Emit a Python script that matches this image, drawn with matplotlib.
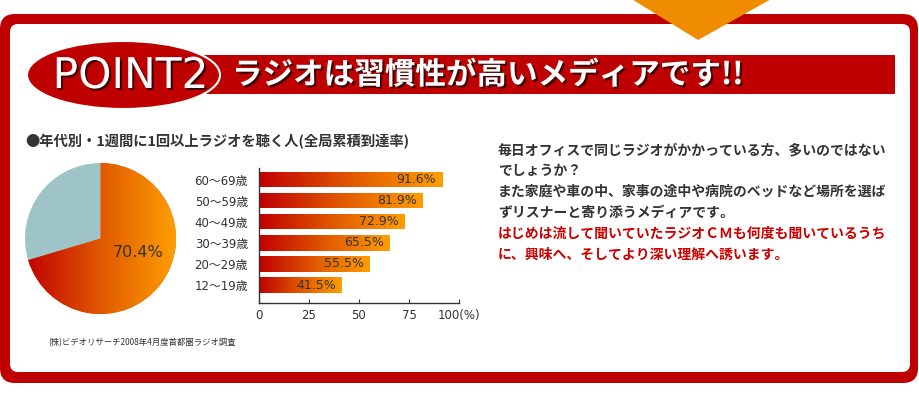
import numpy as np
import matplotlib
matplotlib.use('Agg')
import matplotlib.pyplot as plt
from matplotlib.patches import FancyBboxPatch, Ellipse, Rectangle, Polygon
from matplotlib.colors import LinearSegmentedColormap
import matplotlib.patheffects as pe

plt.rcParams['font.family'] = ['Noto Sans CJK JP', 'DejaVu Sans']

# ---------------- data ----------------
pie_values = [70.4, 29.6]
pie_label = '70.4%'
age_groups = ['12～19歳', '20～29歳', '30～39歳', '40～49歳', '50～59歳', '60～69歳']
reach = [41.5, 55.5, 65.5, 72.9, 81.9, 91.6]
x_ticks = [0, 25, 50, 75, 100]
x_tick_labels = ['0', '25', '50', '75', '100(%)']
header_badge = 'POINT2'
header_title = 'ラジオは習慣性が高いメディアです!!'
chart_title = '●年代別・1週間に1回以上ラジオを聴く人(全局累積到達率)'
source_note = '(株)ビデオリサーチ2008年4月度首都圏ラジオ調査'
body_lines = [
    '毎日オフィスで同じラジオがかかっている方、多いのではない',
    'でしょうか？',
    'また家庭や車の中、家事の途中や病院のベッドなど場所を選ば',
    'ずリスナーと寄り添うメディアです。',
    'はじめは流して聞いていたラジオＣＭも何度も聞いているうち',
    'に、興味へ、そしてより深い理解へ誘います。',
]
body_highlight = [False, False, False, False, True, True]

# ---------------- styles ----------------
RED = '#bf0000'
DARK = '#333333'
TEAL = '#9ec4c7'
ORANGE_TRI = '#f08c00'
cmap = LinearSegmentedColormap.from_list('rg', ['#c00000', '#e05800', '#ff9e00'])
shadow = [pe.SimplePatchShadow(offset=(1.5, -1.5), shadow_rgbFace='black', alpha=0.65), pe.Normal()]

W, H = 920, 399
fig = plt.figure(figsize=(W / 100, H / 100), dpi=100)
fig.patch.set_facecolor('white')

bg = fig.add_axes([0, 0, 1, 1])
bg.set_xlim(0, W)
bg.set_ylim(H, 0)
bg.axis('off')

# frame
bg.add_patch(FancyBboxPatch((0, 14), 918, 369, boxstyle='round,pad=0,rounding_size=15',
                            fc=RED, ec='none', zorder=1))
bg.add_patch(FancyBboxPatch((10, 24), 900, 348, boxstyle='round,pad=0,rounding_size=8',
                            fc='white', ec='none', zorder=2))
bg.add_patch(Polygon([(630, -2), (773, -2), (698, 40)], closed=True, fc=ORANGE_TRI, ec='none', zorder=3))

# header
bg.add_patch(Rectangle((200, 55), 695, 39, fc=RED, ec='none', zorder=3))
bg.add_patch(Ellipse((123.5, 75), 193, 68, fc=RED, ec='white', lw=1.5, zorder=4))
bg.text(130.5, 76, header_badge, fontsize=30.5, color='white', family='DejaVu Sans',
        ha='center', va='center', zorder=5, path_effects=shadow)
bg.text(232, 75, header_title, fontsize=22, color='white', weight='bold',
        ha='left', va='center', zorder=5, path_effects=shadow)

# chart title
bg.text(25, 142, chart_title, fontsize=10.3, color=DARK, weight='bold', ha='left', va='center', zorder=5)

# source note
bg.text(142, 343, source_note, fontsize=6, color=DARK, ha='center', va='center', zorder=5)

# body text
for i, (line, hl) in enumerate(zip(body_lines, body_highlight)):
    bg.text(498, 150 + 20.9 * i, line, fontsize=10, weight='bold',
            color='#cc0000' if hl else DARK, ha='left', va='center', zorder=5)

grad = np.linspace(0, 1, 256).reshape(1, -1)

# ---------------- pie ----------------
cx, cy, r = 100.5, 238.5, 75.5
pax = fig.add_axes([(cx - r) / W, (H - cy - r) / H, 2 * r / W, 2 * r / H])
wedges, _ = pax.pie(pie_values, startangle=90, counterclock=False,
                    colors=['#e05800', TEAL], radius=1, wedgeprops=dict(linewidth=0))
im = pax.imshow(grad, extent=(-1, 1, -1, 1), cmap=cmap, aspect='auto', zorder=wedges[0].get_zorder() + 0.5)
im.set_clip_path(wedges[0])
pax.set_xlim(-1, 1)
pax.set_ylim(-1, 1)
pax.set_aspect('auto')
pax.axis('off')
pax.text(0.5, -0.18, pie_label, fontsize=11.5, color=DARK, family='DejaVu Sans',
         ha='center', va='center', zorder=10)

# ---------------- bars ----------------
bax = fig.add_axes([259 / W, (H - 303) / H, 200 / W, 135 / H])
ypos = np.arange(len(reach))
bars = bax.barh(ypos, reach, height=0.735, color='none', edgecolor='none')
for b, v, yy in zip(bars, reach, ypos):
    x0, y0, w, h = b.get_x(), b.get_y(), b.get_width(), b.get_height()
    bim = bax.imshow(grad, extent=(x0, x0 + w, y0, y0 + h), cmap=cmap, aspect='auto', zorder=2)
    bim.set_clip_path(b)
    bax.annotate(f'{v}%', xy=(v, yy), xytext=(-6, 0), textcoords='offset pixels',
                 ha='right', va='center', fontsize=9, family='DejaVu Sans', color=DARK, zorder=5)
bax.set_xlim(0, 100)
bax.set_ylim(-0.85, 5.545)
bax.set_aspect('auto')
bax.set_yticks(ypos, age_groups)
bax.set_xticks(x_ticks, x_tick_labels)
bax.tick_params(axis='y', length=0, pad=8, labelsize=8.5, labelcolor=DARK)
bax.tick_params(axis='x', direction='in', length=3, width=0.8, color=DARK, pad=4,
                labelsize=8.5, labelcolor=DARK)
for lab in bax.get_yticklabels():
    lab.set_family(['DejaVu Sans', 'Noto Sans CJK JP'])
for lab in bax.get_xticklabels():
    lab.set_family(['DejaVu Sans', 'Noto Sans CJK JP'])
for s in ['top', 'right']:
    bax.spines[s].set_visible(False)
for s in ['left', 'bottom']:
    bax.spines[s].set_color(DARK)
    bax.spines[s].set_linewidth(1)
bax.patch.set_alpha(0)

fig.savefig('out.png', dpi=100, facecolor='white')
